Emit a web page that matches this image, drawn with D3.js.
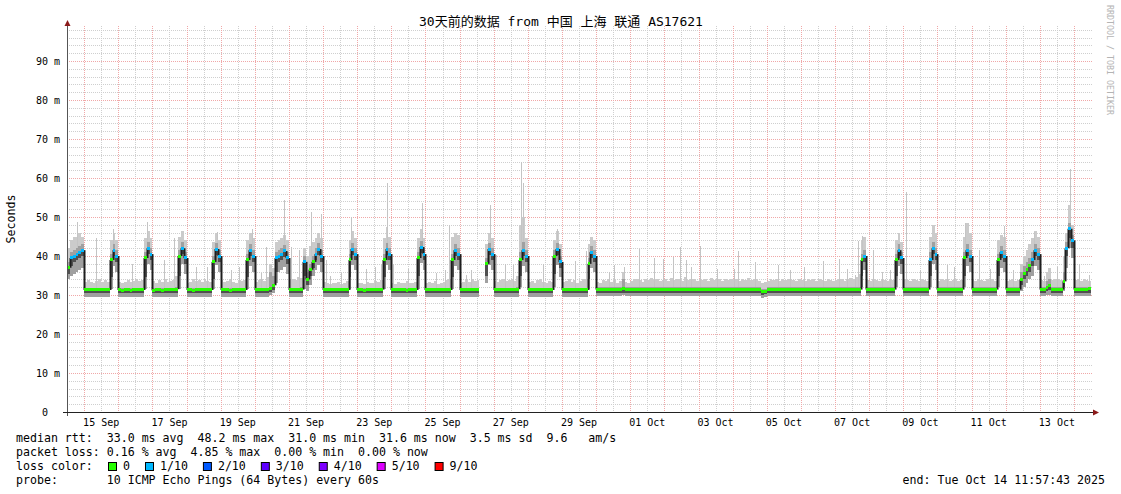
<!DOCTYPE html>
<html><head><meta charset="utf-8">
<script src="https://cdn.jsdelivr.net/npm/d3@7"></script>
<style>
html,body{margin:0;padding:0;background:#fff;}
svg{display:block;}
text{font-family:"DejaVu Sans Mono","Noto Sans CJK SC",monospace;fill:#000;}
</style>
</head><body>
<svg id="c" width="1121" height="494"></svg>
<script>
// ---------------- DATA ----------------
const title = "30天前的数据 from 中国 上海 联通 AS17621";
const startTime = "2025-09-14T11:57:43Z";
const endTime = "2025-10-14T11:57:43Z";
const firstSlot = "2025-09-14T12:00:00Z"; // 2-hour consolidation slots
const slotHours = 2;

// median rtt (ms), one row per day
const median = [
37,39.5,40,40.5,41,41.5,
31.3,31.3,31.3,31.3,31.3,31.3,31.3,31.3,31.3,39,41.5,40,
31.3,31.2,31.3,31.3,31.2,31.3,31.3,31.4,31.3,39.5,42,40.5,
31.2,31.3,31.3,31.2,31.3,31.3,31.3,31.3,31.5,40,42,39.5,
31.3,31.3,31.2,31.3,31.3,31.4,31.3,31.3,31.3,38.5,41.8,40,
31.3,31.3,31.3,31.2,31.3,31.3,31.3,31.3,31.3,39,41.5,40,
31.3,31.3,31.3,31.3,31.3,31.8,32.5,39.5,40,40.5,41.3,39.5,
31.3,31.3,31.3,31.3,31.4,38.5,34,36.5,38.5,40.5,41.8,40,
31.3,31.3,31.3,31.3,31.3,31.3,31.3,31.3,31.3,39,41.8,40.5,
31.3,31.3,31.2,31.3,31.3,31.3,31.3,31.3,31.4,39,41.8,40.5,
31.3,31.3,31.3,31.3,31.3,31.2,31.3,31.3,31.3,39.5,42.3,40.5,
31.3,31.3,31.3,31.3,31.3,31.3,31.3,31.3,31.3,39,41.5,40.5,
31.3,31.3,31.3,31.3,31.3,31.3,31.3,null,null,38,41.8,40.5,
31.3,31.3,31.3,31.3,31.3,31.3,31.3,31.3,31.5,39,41.5,40,
31.3,31.3,31.3,31.3,31.3,31.3,31.3,31.3,31.3,40,41.8,38.5,
31.3,31.3,31.3,31.3,31.3,31.3,31.3,31.3,31.3,38,41,40,
31.4,31.4,31.4,31.4,31.4,31.4,31.4,31.4,31.4,31.8,31.4,31.4,
31.4,31.4,31.5,31.4,31.4,31.4,31.5,31.4,31.4,31.4,31.4,31.5,
31.4,31.5,31.4,31.4,31.4,31.4,31.4,31.5,31.4,31.4,31.4,31.4,
31.4,31.4,31.4,31.5,31.4,31.4,31.4,31.4,31.4,31.5,31.4,31.4,
31.4,31.4,31.4,31.4,31.5,31.4,31.4,31.4,31.4,31.4,30.9,31,
31.3,31.4,31.4,31.4,31.4,31.4,31.4,31.4,31.5,31.4,31.4,31.4,
31.4,31.4,31.4,31.4,31.4,31.5,31.4,31.4,31.4,31.4,31.4,31.4,
31.4,31.4,31.4,31.4,31.4,31.4,31.4,31.4,31.4,39,40,31.4,
31.4,31.4,31.4,31.4,31.4,31.4,31.4,31.4,31.4,39,41.5,39.5,
31.4,31.4,31.4,31.4,31.4,31.4,31.4,31.4,31.4,39,42,40.5,
31.4,31.4,31.4,31.4,31.4,31.4,31.4,31.4,31.4,39.5,41.5,40,
31.4,31.4,31.4,31.4,31.4,31.4,31.4,31.4,31.4,39,41,40,
31.4,31.4,31.4,31.4,31.4,34,35.5,36.5,37.5,39,41.5,40.5,
31.4,31.4,32,32.5,31.4,31.4,31.4,31.4,33.5,42,47,44,
31.4,31.4,31.5,31.4,31.5,31.6
];

// fastest ping (ms)
const pingMin = [
34,35,35.5,36,36.5,37,
29.6,29.6,29.6,29.6,29.6,29.6,29.6,29.6,29.6,31.5,37.5,36,
29.6,29.6,29.6,29.6,29.6,29.6,29.6,29.6,29.6,31.5,38,36.5,
29.6,29.6,29.6,29.6,29.6,29.6,29.6,29.6,29.6,31.5,38,35.5,
29.6,29.6,29.6,29.6,29.6,29.6,29.6,29.6,29.6,31.5,37.8,36,
29.6,29.6,29.6,29.6,29.6,29.6,29.6,29.6,29.6,31.5,37.5,36,
29.6,29.6,29.6,29.6,29.6,29.9,30.5,33,36,36.5,37.3,35.5,
29.6,29.6,29.6,29.6,29.6,31.5,31,32.5,35,36.5,37.8,36,
29.6,29.6,29.6,29.6,29.6,29.6,29.6,29.6,29.6,31.5,37.8,36.5,
29.6,29.6,29.6,29.6,29.6,29.6,29.6,29.6,29.6,31.5,37.8,36.5,
29.6,29.6,29.6,29.6,29.6,29.6,29.6,29.6,29.6,31.5,38.3,36.5,
29.6,29.6,29.6,29.6,29.6,29.6,29.6,29.6,29.6,31.5,37.5,36.5,
29.6,29.6,29.6,29.6,29.6,29.6,29.6,null,null,33,37.8,36.5,
29.6,29.6,29.6,29.6,29.6,29.6,29.6,29.6,29.6,32,37.5,36,
29.6,29.6,29.6,29.6,29.6,29.6,29.6,29.6,29.6,32,37.8,34.5,
29.6,29.6,29.6,29.6,29.6,29.6,29.6,29.6,29.6,31.5,37,36,
29.7,29.7,29.7,29.7,29.7,29.7,29.7,29.7,29.7,29.9,29.7,29.7,
29.7,29.7,29.7,29.7,29.7,29.7,29.7,29.7,29.7,29.7,29.7,29.7,
29.7,29.7,29.7,29.7,29.7,29.7,29.7,29.7,29.7,29.7,29.7,29.7,
29.7,29.7,29.7,29.7,29.7,29.7,29.7,29.7,29.7,29.7,29.7,29.7,
29.7,29.7,29.7,29.7,29.7,29.7,29.7,29.7,29.7,29.7,29.3,29.4,
29.7,29.7,29.7,29.7,29.7,29.7,29.7,29.7,29.7,29.7,29.7,29.7,
29.7,29.7,29.7,29.7,29.7,29.7,29.7,29.7,29.7,29.7,29.7,29.7,
29.7,29.7,29.7,29.7,29.7,29.7,29.7,29.7,29.7,32,36.5,29.7,
29.7,29.7,29.7,29.7,29.7,29.7,29.7,29.7,29.7,32,37.5,35.5,
29.7,29.7,29.7,29.7,29.7,29.7,29.7,29.7,29.7,32,38,36.5,
29.7,29.7,29.7,29.7,29.7,29.7,29.7,29.7,29.7,32,37.5,36,
29.7,29.7,29.7,29.7,29.7,29.7,29.7,29.7,29.7,32,37,36,
29.7,29.7,29.7,29.7,29.7,31,32,33,34,35,37.5,36.5,
29.7,29.7,29.9,30.1,29.7,29.7,29.7,29.7,31,37,42,39.5,
29.7,29.7,29.7,29.7,29.7,29.7
];

// lower quartile ping (ms)
const pingLow = [
35.5,37.5,38.5,39,39.5,40,
30.5,30.5,30.5,30.5,30.5,30.5,30.5,30.5,30.5,34.5,40,38.5,
30.5,30.5,30.5,30.5,30.5,30.5,30.5,30.5,30.5,34.5,40.5,39,
30.5,30.5,30.5,30.5,30.5,30.5,30.5,30.5,30.5,35,40.5,38,
30.5,30.5,30.5,30.5,30.5,30.5,30.5,30.5,30.5,34,40.3,38.5,
30.5,30.5,30.5,30.5,30.5,30.5,30.5,30.5,30.5,34.5,40,38.5,
30.5,30.5,30.5,30.5,30.5,30.9,31.4,36,38.5,39,39.8,38,
30.5,30.5,30.5,30.5,30.5,35,32.5,35,37,39,40.3,38.5,
30.5,30.5,30.5,30.5,30.5,30.5,30.5,30.5,30.5,34.5,40.3,39,
30.5,30.5,30.5,30.5,30.5,30.5,30.5,30.5,30.5,34.5,40.3,39,
30.5,30.5,30.5,30.5,30.5,30.5,30.5,30.5,30.5,35,40.8,39,
30.5,30.5,30.5,30.5,30.5,30.5,30.5,30.5,30.5,34.5,40,39,
30.5,30.5,30.5,30.5,30.5,30.5,30.5,null,null,35,40.3,39,
30.5,30.5,30.5,30.5,30.5,30.5,30.5,30.5,30.5,35,40,38.5,
30.5,30.5,30.5,30.5,30.5,30.5,30.5,30.5,30.5,35.5,40.3,37,
30.5,30.5,30.5,30.5,30.5,30.5,30.5,30.5,30.5,34,39.5,38.5,
30.6,30.6,30.6,30.6,30.6,30.6,30.6,30.6,30.6,30.6,30.6,30.6,
30.6,30.6,30.6,30.6,30.6,30.6,30.6,30.6,30.6,30.6,30.6,30.6,
30.6,30.6,30.6,30.6,30.6,30.6,30.6,30.6,30.6,30.6,30.6,30.6,
30.6,30.6,30.6,30.6,30.6,30.6,30.6,30.6,30.6,30.6,30.6,30.6,
30.6,30.6,30.6,30.6,30.6,30.6,30.6,30.6,30.6,30.6,30.1,30.2,
30.6,30.6,30.6,30.6,30.6,30.6,30.6,30.6,30.6,30.6,30.6,30.6,
30.6,30.6,30.6,30.6,30.6,30.6,30.6,30.6,30.6,30.6,30.6,30.6,
30.6,30.6,30.6,30.6,30.6,30.6,30.6,30.6,30.6,35,38.5,30.6,
30.6,30.6,30.6,30.6,30.6,30.6,30.6,30.6,30.6,35,40,38,
30.6,30.6,30.6,30.6,30.6,30.6,30.6,30.6,30.6,35,40.5,39,
30.6,30.6,30.6,30.6,30.6,30.6,30.6,30.6,30.6,35,40,38.5,
30.6,30.6,30.6,30.6,30.6,30.6,30.6,30.6,30.6,35,39.5,38.5,
30.6,30.6,30.6,30.6,30.6,32.5,34,35,36,37.5,40,39,
30.6,30.6,31.1,31.4,30.6,30.6,30.6,30.6,32,40,44.5,42,
30.6,30.6,30.6,30.6,30.6,30.6
];

// upper quartile ping (ms)
const pingHigh = [
38.5,41,41.5,42,42.5,43,
31.9,31.9,31.9,31.9,31.9,31.9,31.9,31.9,31.9,40.5,43,41.5,
31.9,31.9,31.9,31.9,31.9,31.9,31.9,31.9,31.9,41,43.5,42,
31.9,31.9,31.9,31.9,31.9,31.9,31.9,31.9,32.1,41.5,43.5,41,
31.9,31.9,31.9,31.9,31.9,31.9,31.9,31.9,31.9,40,43.3,41.5,
31.9,31.9,31.9,31.9,31.9,31.9,31.9,31.9,31.9,40.5,43,41.5,
31.9,31.9,31.9,31.9,31.9,36,35,41,41.5,42,42.8,41,
31.9,31.9,31.9,31.9,32,40,36,38,40,42,43.3,41.5,
31.9,31.9,31.9,31.9,31.9,31.9,31.9,31.9,31.9,40.5,43.3,42,
31.9,31.9,31.9,31.9,31.9,31.9,31.9,31.9,31.9,40.5,43.3,42,
31.9,31.9,31.9,31.9,31.9,31.9,31.9,31.9,31.9,41,43.8,42,
31.9,31.9,31.9,31.9,31.9,31.9,31.9,31.9,31.9,40.5,43,42,
31.9,31.9,31.9,31.9,31.9,31.9,31.9,null,null,39.5,43.3,42,
31.9,31.9,31.9,31.9,31.9,31.9,31.9,31.9,32.1,41,43.5,41.5,
31.9,31.9,31.9,31.9,31.9,31.9,31.9,31.9,31.9,41.5,43.3,40,
31.9,31.9,31.9,31.9,31.9,31.9,31.9,31.9,31.9,39.5,42.5,41.5,
32,32,32,32,32,32,32,32,32,34,32,32,
32,32,32,32,32,32,32,32,32,32,32,32,
32,32,32,32,32,32,32,32,32,32,32,32,
32,32,32,32,32,32,32,32,32,32,32,32,
32,32,32,32,32,32,32,32,32,32,31.5,31.6,
32,32,32,32,32,32,32,32,32,32,32,32,
32,32,32,32,32,32,32,32,32,32,32,32,
32,32,32,32,32,32,32,32,32,40.5,41.5,32,
32,32,32,32,32,32,32,32,32,40.5,43,41,
32,32,32,32,32,32,32,32,32,41,43.5,42,
32,32,32,32,32,32,32,32,32,41,43,41.5,
32,32,32,32,32,32,32,32,32,40.5,42.5,41.5,
32,32,32,32,32,36,37.5,38.5,39.5,41,43,42,
32,32,33.5,34.2,32,32,32,32,36,43.5,48.5,45.5,
32,32,32,32,32,32
];

// slowest ping (ms)
const pingMax = [
42,44,45,45,46,45,
33.4,33.8,33.4,33.2,33.6,34,33.4,33.8,33.4,44,46,44,
33.4,33.2,33.4,33.8,33.4,33.6,34,33.6,33.8,44.5,46.5,44.5,
33.6,33.2,33.8,33.4,34,33.4,33.6,33.8,35,45,46.5,44,
33.2,33.4,34,33.6,33.8,33.4,34,33.6,33.4,43.5,46,44,
33.8,33.4,33.6,34,33.4,33.2,33.8,33.6,33.8,44,46,44.5,
33.4,33.8,34.2,33.6,34.6,38,37,43.5,44,44.5,45.5,44,
34,34.2,33.8,34.6,34.4,42,40,42.5,43.5,44.5,46,44.5,
33.4,33,32.8,33.2,33,33.4,32.8,33.2,33.6,44,46.5,44.5,
33,33.2,32.8,33.4,33.2,33,33.6,33.4,33.8,44.5,47.5,45,
33.2,32.8,33.4,33,33.2,33.6,33,33.2,33.4,44.5,47,44.5,
33,33.4,33.2,33.6,32.8,33.2,33.4,33.8,34,45,46,45.5,
33.2,33.4,33.8,33.4,34,33.6,33.8,null,null,43,46,44.5,
33.6,33.4,33.8,34,33.6,33.8,34,33.6,35,48,50,44.5,
33.4,33.6,33.2,33.8,34,33.4,33.2,33.6,33.4,44,46.5,43,
33.4,33.6,34,33.4,33.8,33.2,33.6,34,34.2,43,45,44,
33.4,33.2,33.8,33.6,34,33.4,33.8,33.2,33.6,36,33.4,33.2,
33.6,34,34.2,33.8,33.4,34.2,33.8,34.4,33.8,34,33.6,33.8,
34,33.6,34.4,33.8,34.2,34,33.6,34.6,33.8,34.2,34,33.6,
34.2,33.8,34,33.6,34.4,33.8,34.2,34,33.6,34.2,33.8,34,
33.8,34.2,33.6,34,33.8,34.4,33.8,34,34.2,33.6,33.2,33.4,
33.6,34,33.8,34.2,33.6,34,33.8,34.2,34,33.8,33.6,34,
33.8,33.6,34,33.8,34.2,33.6,34,33.8,33.6,34,33.8,33.6,
33.8,34,34.2,33.6,34,34.4,34.2,34.6,35.5,44,45,33.8,
33.6,34,33.8,33.6,34,33.8,33.6,34,33.8,44,46,43.5,
34,33.8,33.6,34,33.8,33.6,34,33.8,33.6,45,48,46,
33.6,34,33.8,34,33.6,33.8,34,33.6,33.8,45,48.5,46,
33.8,33.6,34,33.8,33.6,34,33.8,34,33.6,44,45.5,45,
33.6,33.8,34,33.6,33.8,38,40,41.5,43,44.5,46.5,45,
33.8,33.6,36,37,33.8,34,34.2,33.8,40,46,53,48,
33.8,34.2,33.6,34,33.8,33.6
];

// loss level per slot (index into lossColors)
const lossLevel = [
0,1,1,1,1,1,
0,0,0,0,0,0,0,0,0,0,1,1,
0,0,0,0,0,0,0,0,0,0,1,1,
0,0,0,0,0,0,0,0,0,0,1,1,
0,0,0,0,0,0,0,0,0,0,1,1,
0,0,0,0,0,0,0,0,0,0,1,1,
0,0,0,0,0,0,0,1,1,1,1,1,
0,0,0,0,0,1,0,0,0,1,1,1,
0,0,0,0,0,0,0,0,0,0,1,1,
0,0,0,0,0,0,0,0,0,0,1,1,
0,0,0,0,0,0,0,0,0,0,1,1,
0,0,0,0,0,0,0,0,0,0,1,1,
0,0,0,0,0,0,0,0,0,0,1,1,
0,0,0,0,0,0,0,0,0,0,1,1,
0,0,0,0,0,0,0,0,0,0,1,1,
0,0,0,0,0,0,0,0,0,0,1,1,
0,0,0,0,0,0,0,0,0,0,0,0,
0,0,0,0,0,0,0,0,0,0,0,0,
0,0,0,0,0,0,0,0,0,0,0,0,
0,0,0,0,0,0,0,0,0,0,0,0,
0,0,0,0,0,0,0,0,0,0,0,0,
0,0,0,0,0,0,0,0,0,0,0,0,
0,0,0,0,0,0,0,0,0,0,0,0,
0,0,0,0,0,0,0,0,0,0,1,0,
0,0,0,0,0,0,0,0,0,0,1,1,
0,0,0,0,0,0,0,0,0,1,1,1,
0,0,0,0,0,0,0,0,0,0,1,1,
0,0,0,0,0,0,0,0,0,0,1,1,
0,0,0,0,0,0,0,0,0,1,1,1,
0,0,0,0,0,0,0,0,0,1,1,1,
0,0,0,0,0,0
];

// single slow pings standing above the smoke: [time, ms]
const spikes = [
["2025-09-14T19:20Z",48.8],["2025-09-15T08:14Z",44.5],["2025-09-15T20:24Z",47],["2025-09-16T09:58Z",38],
["2025-09-16T20:31Z",48.8],["2025-09-17T08:15Z",39],["2025-09-17T15:17Z",44.6],["2025-09-18T06:33Z",37.2],
["2025-09-18T14:43Z",37.2],["2025-09-18T21:44Z",46.2],["2025-09-19T07:09Z",36.4],["2025-09-19T12:59Z",37.2],
["2025-09-19T22:20Z",47],["2025-09-20T04:15Z",35.6],["2025-09-20T07:46Z",42.3],["2025-09-20T20:38Z",54.4],
["2025-09-21T01:21Z",42.3],["2025-09-21T07:12Z",41.5],["2025-09-21T15:25Z",51.3],["2025-09-21T22:26Z",50.9],
["2025-09-22T01:58Z",39],["2025-09-22T04:47Z",34.8],["2025-09-22T12:56Z",35.6],["2025-09-22T19:32Z",50],
["2025-09-23T06:30Z",36.8],["2025-09-23T12:25Z",37.2],["2025-09-23T17:03Z",38],["2025-09-23T21:17Z",58.7],
["2025-09-24T01:17Z",38],["2025-09-24T11:50Z",36.8],["2025-09-24T21:53Z",53.6],["2025-09-25T07:44Z",35.6],
["2025-09-25T13:38Z",36.4],["2025-09-25T16:27Z",48],["2025-09-26T04:49Z",35.2],["2025-09-26T08:21Z",36.4],
["2025-09-26T21:43Z",53.2],["2025-09-27T01:55Z",40.3],["2025-09-27T07:49Z",38],["2025-09-27T13:39Z",37.6],
["2025-09-27T19:30Z",64.1],["2025-09-27T20:42Z",58.7],["2025-09-28T10:46Z",38],["2025-09-28T20:50Z",46.9],
["2025-09-29T09:04Z",38.8],["2025-09-29T17:13Z",41.4],["2025-09-30T09:10Z",36],["2025-09-30T12:42Z",37.6],
["2025-09-30T19:43Z",37.2],["2025-10-01T06:17Z",41.8],["2025-10-01T16:37Z",39.4],["2025-10-01T23:09Z",39.2],
["2025-10-02T06:11Z",39.7],["2025-10-02T10:54Z",42.3],["2025-10-02T15:20Z",38.9],["2025-10-02T18:50Z",37.2],
["2025-10-03T00:58Z",42.6],["2025-10-03T13:07Z",36.8],["2025-10-04T00:52Z",36.8],["2025-10-04T03:40Z",41.3],
["2025-10-04T15:50Z",38.5],["2025-10-05T07:48Z",37.8],["2025-10-05T16:28Z",36.4],["2025-10-06T02:18Z",37.2],
["2025-10-06T15:39Z",38.8],["2025-10-07T02:54Z",39.2],["2025-10-07T08:19Z",36.8],["2025-10-07T13:57Z",35.2],
["2025-10-07T16:29Z",43.8],["2025-10-07T18:52Z",45.1],["2025-10-08T03:01Z",41.5],["2025-10-08T08:56Z",36],
["2025-10-08T14:46Z",36.4],["2025-10-08T19:29Z",43.3],["2025-10-09T01:48Z",56.5],["2025-10-09T11:51Z",36.4],
["2025-10-10T06:38Z",37.6],["2025-10-10T11:17Z",37.2],["2025-10-10T19:30Z",48.5],["2025-10-11T04:52Z",41.5],
["2025-10-11T13:06Z",36.8],["2025-10-11T22:27Z",47.8],["2025-10-12T05:28Z",36.4],["2025-10-12T19:32Z",46.2],
["2025-10-13T02:34Z",34.8],["2025-10-13T12:00Z",37.2],["2025-10-13T20:53Z",62.3],["2025-10-14T03:13Z",38],
["2025-10-14T10:15Z",35.2]
];

const yTickValues = [0,10,20,30,40,50,60,70,80,90];
const yTickLabels = ["0","10 m","20 m","30 m","40 m","50 m","60 m","70 m","80 m","90 m"];
const xLabelDays = ["2025-09-15","2025-09-17","2025-09-19","2025-09-21","2025-09-23","2025-09-25","2025-09-27",
  "2025-09-29","2025-10-01","2025-10-03","2025-10-05","2025-10-07","2025-10-09","2025-10-11","2025-10-13"];
const lossLabels = ["0","1/10","2/10","3/10","4/10","5/10","9/10"];
const lossColors = ["#26ff00","#00b8ff","#0059ff","#5e00ff","#7e00ff","#dd00ff","#ff0000"];
const legendLines = [
  "median rtt:  33.0 ms avg  48.2 ms max  31.0 ms min  31.6 ms now  3.5 ms sd  9.6   am/s",
  "packet loss: 0.16 % avg  4.85 % max  0.00 % min  0.00 % now",
  "loss color:",
  "probe:       10 ICMP Echo Pings (64 Bytes) every 60s"
];
const endLabel = "end: Tue Oct 14 11:57:43 2025";

// ---------------- DRAW ----------------
const n = median.length;
[pingMin,pingLow,pingHigh,pingMax,lossLevel].forEach(a=>{ if(a.length!==n) throw new Error("length mismatch "+a.length+" vs "+n); });

const svg = d3.select("#c");
const L=67, R=1091, T=26, B=412;
const x = d3.scaleUtc().domain([new Date(startTime), new Date(endTime)]).range([L,R]);
const y = d3.scaleLinear().domain([0,99]).range([B,T]);
const t0 = new Date(firstSlot).getTime(), step = slotHours*3600e3, tEnd = new Date(endTime).getTime();
const slotT = i => new Date(Math.min(t0 + i*step, tEnd));

// grid
const grid = svg.append("g");
const minorY = d3.range(2, 99, 2).filter(v => v % 10 !== 0);
grid.selectAll(".hm").data(minorY).join("line")
  .attr("x1",L).attr("x2",R+2).attr("y1",d=>Math.round(y(d))+0.5).attr("y2",d=>Math.round(y(d))+0.5)
  .attr("stroke","#cfcfcf").attr("stroke-dasharray","1,1");
const noons = d3.utcHour.every(12).range(new Date(startTime), new Date(endTime)).filter(d=>d.getUTCHours()===12);
const mids = d3.utcDay.range(new Date(startTime), new Date(endTime));
grid.selectAll(".vm").data(noons).join("line")
  .attr("x1",d=>Math.round(x(d))+0.5).attr("x2",d=>Math.round(x(d))+0.5).attr("y1",T).attr("y2",B)
  .attr("stroke","#cfcfcf").attr("stroke-dasharray","1,1");
grid.selectAll(".hM").data(yTickValues.slice(1)).join("line")
  .attr("x1",L).attr("x2",R+2).attr("y1",d=>Math.round(y(d))+0.5).attr("y2",d=>Math.round(y(d))+0.5)
  .attr("stroke","#f0a8a8").attr("stroke-dasharray","1,1");
grid.selectAll(".vM").data(mids).join("line")
  .attr("x1",d=>Math.round(x(d))+0.5).attr("x2",d=>Math.round(x(d))+0.5).attr("y1",T).attr("y2",B)
  .attr("stroke","#f0a8a8").attr("stroke-dasharray","1,1");

// data layers
svg.append("clipPath").attr("id","pc").append("rect").attr("x",L).attr("y",T).attr("width",R-L+1).attr("height",B-T);
const plot = svg.append("g").attr("clip-path","url(#pc)");
const idx = d3.range(n);
const colX = i => Math.round(x(slotT(i)));
const colW = i => Math.max(1, Math.round(x(slotT(i+1))) - Math.round(x(slotT(i))));
function band(lo, hi, color){
  plot.append("g").selectAll("rect").data(idx.filter(i=>lo[i]!=null && hi[i]!=null)).join("rect")
    .attr("x",colX).attr("width",colW)
    .attr("y",i=>y(hi[i])).attr("height",i=>Math.max(0,y(lo[i])-y(hi[i])))
    .attr("fill",color).attr("shape-rendering","crispEdges");
}
band(pingMin, pingMax, "#cbcbcb");
// spikes
const slotOf = d => Math.floor((new Date(d).getTime()-t0)/step);
plot.append("g").selectAll("rect").data(spikes.filter(s=>{const i=slotOf(s[0]);return i>=0&&i<n&&pingHigh[i]!=null;})).join("rect")
  .attr("x",s=>Math.round(x(new Date(s[0])))).attr("width",1)
  .attr("y",s=>y(s[1])).attr("height",s=>Math.max(0,y(pingHigh[slotOf(s[0])])-y(s[1])))
  .attr("fill","#c4c4c4").attr("shape-rendering","crispEdges");
band(pingMin, pingHigh, "#a0a0a0");
band(pingLow, median, "#505050");

// median connectors and line
const conn = idx.slice(0,n-1).filter(i=>median[i]!=null && median[i+1]!=null && Math.abs(median[i+1]-median[i])>1.6);
plot.append("g").selectAll("line").data(conn).join("line")
  .attr("x1",i=>colX(i+1)+0.5).attr("x2",i=>colX(i+1)+0.5)
  .attr("y1",i=>y(median[i])).attr("y2",i=>y(median[i+1]))
  .attr("stroke","#1e1e1e").attr("stroke-width",2);
plot.append("g").selectAll("rect").data(idx.filter(i=>median[i]!=null)).join("rect")
  .attr("x",colX).attr("width",colW)
  .attr("y",i=>Math.round(y(median[i])-1.5)).attr("height",3)
  .attr("fill",i=>lossColors[lossLevel[i]]).attr("shape-rendering","crispEdges");

// axes
const ax = svg.append("g");
ax.append("line").attr("x1",L+0.5).attr("x2",L+0.5).attr("y1",B+4).attr("y2",T-4).attr("stroke","#555");
ax.append("line").attr("x1",L-4).attr("x2",R+3).attr("y1",B+0.5).attr("y2",B+0.5).attr("stroke","#222");
ax.append("path").attr("d",`M${L-2.5},${T}L${L+3.5},${T}L${L+0.5},${T-6}Z`).attr("fill","#8b1a1a");
ax.append("path").attr("d",`M${R+2},${B-2.5}L${R+2},${B+3.5}L${R+8},${B+0.5}Z`).attr("fill","#8b1a1a");

// y tick labels
ax.selectAll(".yl").data(yTickValues).join("text")
  .attr("x",(d,i)=> i===0 ? 48 : 60).attr("y",d=>y(d)+3.5).attr("text-anchor","end")
  .attr("font-size","10px").text((d,i)=>yTickLabels[i]);
// x tick labels
const fmt = d3.utcFormat("%d %b");
ax.selectAll(".xl").data(xLabelDays).join("text")
  .attr("x",d=>x(d3.utcHour.offset(new Date(d+"T00:00:00Z"),12))).attr("y",425.5)
  .attr("text-anchor","middle").attr("font-size","10px").text(d=>fmt(new Date(d+"T00:00:00Z")));

// title & labels
svg.append("text").attr("x",561).attr("y",26).attr("text-anchor","middle").attr("font-size","13px").text(title);
svg.append("text").attr("transform","translate(15,219) rotate(-90)").attr("text-anchor","middle")
  .attr("font-size","11.6px").text("Seconds");
svg.append("text").attr("transform","translate(1107,5) rotate(90)").attr("font-size","8.3px")
  .style("fill","#b4b4b4").text("RRDTOOL / TOBI OETIKER");

// legend
const legY = [442,456,470,484];
legendLines.forEach((s,i)=>{
  svg.append("text").attr("x",16).attr("y",legY[i]).attr("font-size","11.6px").style("white-space","pre").text(s);
});
let lx = 108;
lossLabels.forEach((lab,i)=>{
  svg.append("rect").attr("x",lx+0.5).attr("y",462.5).attr("width",8).attr("height",8)
    .attr("fill",lossColors[i]).attr("stroke","#000").attr("stroke-width",1);
  const t = svg.append("text").attr("x",lx+15).attr("y",470).attr("font-size","11.6px").text(lab);
  lx = lx + 15 + t.node().getComputedTextLength() + 15;
});
svg.append("text").attr("x",1105).attr("y",484).attr("text-anchor","end").attr("font-size","11.6px").text(endLabel);
</script>
</body></html>
